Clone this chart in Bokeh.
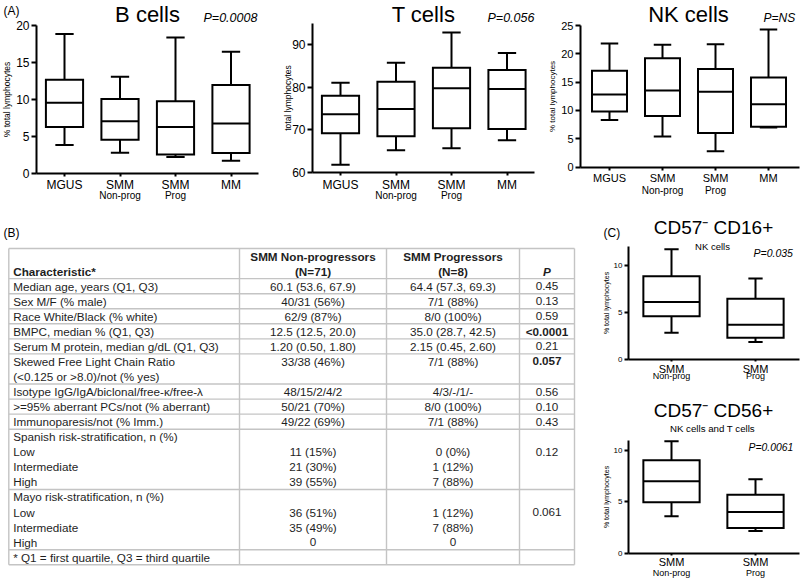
from bokeh.plotting import figure
from bokeh.models import Range1d, FixedTicker, ColumnDataSource, GridBox
from bokeh.layouts import row, column
from bokeh.embed import file_html
from bokeh.resources import INLINE
from bokeh.core.properties import value

# ---------------- data ----------------
groups = ["MGUS", "SMM", "SMM", "MM"]
group_notes = ["", "Non-prog", "Prog", ""]

b_low = [3.8, 2.75, 2.15, 1.65]
b_q1 = [6.2, 4.5, 2.5, 2.7]
b_med = [9.5, 7.0, 6.2, 6.7]
b_q3 = [12.6, 10.0, 9.7, 11.9]
b_high = [18.8, 13.0, 18.3, 16.4]

t_low = [61.8, 65.2, 65.7, 67.6]
t_q1 = [69.2, 68.5, 70.4, 70.2]
t_med = [73.7, 74.9, 79.8, 79.6]
t_q3 = [78.0, 81.3, 84.6, 84.1]
t_high = [81.1, 85.8, 92.9, 88.1]

nk_low = [8.3, 5.4, 2.8, 7.0]
nk_q1 = [9.8, 9.0, 6.0, 7.1]
nk_med = [12.8, 13.5, 13.3, 11.1]
nk_q3 = [17.0, 19.2, 17.3, 15.8]
nk_high = [21.8, 21.6, 21.7, 24.3]

c_groups = ["SMM", "SMM"]
c_notes = ["Non-prog", "Prog"]
cd16_low = [2.85, 1.85]
cd16_q1 = [4.6, 2.3]
cd16_med = [6.1, 3.7]
cd16_q3 = [8.85, 6.45]
cd16_high = [11.7, 8.6]
cd56_low = [3.6, 2.15]
cd56_q1 = [4.95, 2.45]
cd56_med = [7.0, 4.0]
cd56_q3 = [9.05, 5.7]
cd56_high = [10.9, 7.2]

b_yticks = [0, 5, 10, 15, 20]
t_yticks = [60, 70, 80, 90]
nk_yticks = [0, 5, 10, 15, 20, 25]
c_yticks = [0, 5, 10]
b_ybounds = (0, 20)
t_ybounds = (60, 95)
nk_ybounds = (0, 25)
cd16_ybounds = (0, 12)
cd56_ybounds = (0, 11)

panel_letters = ["(A)", "(B)", "(C)"]
top_titles = ["B cells", "T cells", "NK cells"]
top_pvals = ["P=0.0008", "P=0.056", "P=NS"]
c_titles = ["CD57\u207b CD16+", "CD57\u207b CD56+"]
c_subtitles = ["NK cells", "NK cells and T cells"]
c_pvals = ["P=0.035", "P=0.0061"]

table_header_left = "Characteristic*"
table_header_np = ["SMM Non-progressors", "(N=71)"]
table_header_p = ["SMM Progressors", "(N=8)"]
table_header_pv = "P"
characteristic = [
    ["Median age, years (Q1, Q3)"],
    ["Sex M/F (% male)"],
    ["Race White/Black (% white)"],
    ["BMPC, median % (Q1, Q3)"],
    ["Serum M protein, median g/dL (Q1, Q3)"],
    ["Skewed Free Light Chain Ratio", "(<0.125 or >8.0)/not (% yes)"],
    ["Isotype IgG/IgA/biclonal/free-\u03ba/free-\u03bb"],
    [">=95% aberrant PCs/not (% aberrant)"],
    ["Immunoparesis/not (% Imm.)"],
    ["Spanish risk-stratification, n (%)", "Low", "Intermediate", "High"],
    ["Mayo risk-stratification, n (%)", "Low", "Intermediate", "High"],
    ["* Q1 = first quartile, Q3 = third quartile"],
]
non_progressors = [
    ["60.1 (53.6, 67.9)"], ["40/31 (56%)"], ["62/9 (87%)"], ["12.5 (12.5, 20.0)"],
    ["1.20 (0.50, 1.80)"], ["33/38 (46%)", ""], ["48/15/2/4/2"], ["50/21 (70%)"],
    ["49/22 (69%)"], ["", "11 (15%)", "21 (30%)", "39 (55%)"],
    ["", "36 (51%)", "35 (49%)", "0"], [""],
]
progressors = [
    ["64.4 (57.3, 69.3)"], ["7/1 (88%)"], ["8/0 (100%)"], ["35.0 (28.7, 42.5)"],
    ["2.15 (0.45, 2.60)"], ["7/1 (88%)", ""], ["4/3/-/1/-"], ["8/0 (100%)"],
    ["7/1 (88%)"], ["", "0 (0%)", "1 (12%)", "7 (88%)"],
    ["", "1 (12%)", "7 (88%)", "0"], [""],
]
p_values = [
    ["0.45"], ["0.13"], ["0.59"], ["<0.0001"], ["0.21"], ["0.057", ""], ["0.56"],
    ["0.10"], ["0.43"], ["", "0.12"], ["", "0.061"], [""],
]
p_bold = ["<0.0001", "0.057"]

FONT = "Liberation Sans"


class Panel:
    """A figure whose frame fills it; page pixel <-> data mapping kept here."""

    def __init__(self, px0, py0, w, h, ax_px, ax_val, ux, ay_px, ay_val, uy):
        self.ax_px, self.ax_val, self.ux = ax_px, ax_val, ux
        self.ay_px, self.ay_val, self.uy = ay_px, ay_val, uy
        xr = (self.dx(px0), self.dx(px0 + w))
        yr = (self.dy(py0 + h), self.dy(py0))
        self.p = figure(width=w, height=h, x_range=Range1d(*xr), y_range=Range1d(*yr),
                        output_backend="svg", toolbar_location=None,
                        min_border_left=0, min_border_right=0,
                        min_border_top=0, min_border_bottom=0)
        self.p.outline_line_color = None
        self.p.xgrid.visible = False
        self.p.ygrid.visible = False
        self.p.background_fill_color = "white"
        self.p.border_fill_color = "white"

    def dx(self, px):
        return self.ax_val + (px - self.ax_px) / self.ux

    def dy(self, py):
        return self.ay_val + (self.ay_px - py) / self.uy

    def text(self, px, py, txt, size, align="center", style="normal"):
        self.p.text(x=[self.dx(px)], y=[self.dy(py)], text=[txt], text_font=value(FONT),
                    text_font_size=size, text_align=align, text_baseline="middle",
                    text_font_style=style, text_color="black")

    def notes(self, notes, py, size):
        xs = [i + 1 for i, n in enumerate(notes) if n]
        ts = [n for n in notes if n]
        self.p.text(x=xs, y=[self.dy(py)] * len(xs), text=ts, text_font=value(FONT),
                    text_font_size=size, text_align="center", text_baseline="middle",
                    text_color="black")


def draw_boxes(p, low, q1, med, q3, high, bw, cw, lw=2):
    xs = [i + 1 for i in range(len(low))]
    src = ColumnDataSource(dict(
        x=xs, low=low, q1=q1, med=med, q3=q3, high=high,
        bl=[x - bw / 2 for x in xs], br=[x + bw / 2 for x in xs],
        cl=[x - cw / 2 for x in xs], cr=[x + cw / 2 for x in xs]))
    kw = dict(source=src, line_color="black", line_width=lw)
    p.segment(x0="x", y0="low", x1="x", y1="q1", **kw)
    p.segment(x0="x", y0="q3", x1="x", y1="high", **kw)
    p.segment(x0="cl", y0="low", x1="cr", y1="low", **kw)
    p.segment(x0="cl", y0="high", x1="cr", y1="high", **kw)
    p.vbar(x="x", width=bw, bottom="q1", top="q3", fill_color="white",
           line_join="miter", **kw)
    p.segment(x0="bl", y0="med", x1="br", y1="med", **kw)


def style_axes(pn, labels, axis_px, end_px, ybounds, yticks, ylabel, tick_size,
               xlab_size, ylab_size, xtick_out=3, xstand=2, ytick_out=5,
               ylab_standoff=1, lw=2):
    p = pn.p
    xa = p.xaxis[0]
    xa.fixed_location = ybounds[0]
    xa.bounds = (pn.dx(axis_px), pn.dx(end_px))
    xa.ticker = FixedTicker(ticks=list(range(1, len(labels) + 1)))
    xa.major_label_overrides = {i + 1: lab for i, lab in enumerate(labels)}
    xa.axis_line_width = lw
    xa.major_tick_line_width = lw
    xa.major_tick_out = xtick_out
    xa.major_tick_in = 0
    xa.minor_tick_line_color = None
    xa.major_label_standoff = xstand
    xa.major_label_text_font = FONT
    xa.major_label_text_font_size = xlab_size
    xa.major_label_text_color = "black"
    ya = p.yaxis[0]
    ya.fixed_location = pn.dx(axis_px)
    ya.bounds = ybounds
    ya.ticker = FixedTicker(ticks=yticks)
    ya.axis_line_width = lw
    ya.major_tick_line_width = lw
    ya.major_tick_out = ytick_out
    ya.major_tick_in = 0
    ya.minor_tick_line_color = None
    ya.major_label_standoff = 2
    ya.major_label_text_font = FONT
    ya.major_label_text_font_size = tick_size
    ya.major_label_text_color = "black"
    ya.axis_label = ylabel
    ya.axis_label_text_font = FONT
    ya.axis_label_text_font_size = ylab_size
    ya.axis_label_text_font_style = "normal"
    ya.axis_label_text_color = "black"
    ya.axis_label_standoff = ylab_standoff


# ---------------- panel A ----------------
pb = Panel(0, 0, 270, 208, 64, 1, 55.5, 172.5, 0, 7.4)
draw_boxes(pb.p, b_low, b_q1, b_med, b_q3, b_high, 0.67, 0.33)
style_axes(pb, groups, 36, 258, b_ybounds, b_yticks, "% total lymphocytes",
           "12px", "12px", "8.5px")
pb.notes(group_notes, 195, "10px")
pb.text(3, 10.5, panel_letters[0], "12px", align="left")
pb.text(147, 14, top_titles[0], "22px")
pb.text(203, 17, top_pvals[0], "12.5px", align="left", style="italic")

pt = Panel(270, 0, 275, 208, 340, 1, 55.5, 172, 60, 4.257)
draw_boxes(pt.p, t_low, t_q1, t_med, t_q3, t_high, 0.67, 0.33)
style_axes(pt, groups, 312, 534, t_ybounds, t_yticks, "total lymphocytes",
           "12px", "12px", "8.5px", ylab_standoff=-4)
pt.notes(group_notes, 195, "10px")
pt.text(423, 14, top_titles[1], "22px")
pt.text(487, 17, top_pvals[1], "12.5px", align="left", style="italic")

pn = Panel(545, 0, 255, 208, 609, 1, 53, 166.5, 0, 5.66)
draw_boxes(pn.p, nk_low, nk_q1, nk_med, nk_q3, nk_high, 0.66, 0.33)
style_axes(pn, groups, 580, 799, nk_ybounds, nk_yticks, "% total lymphocytes",
           "11px", "11px", "8px")
pn.notes(group_notes, 190, "10px")
pn.text(688, 14, top_titles[2], "22px")
pn.text(763, 17, top_pvals[2], "12px", align="left", style="italic")

# ---------------- panel C ----------------
c1 = Panel(590, 208, 210, 184, 671, 1, 84, 359, 0, 9.42)
draw_boxes(c1.p, cd16_low, cd16_q1, cd16_med, cd16_q3, cd16_high, 0.67, 0.17)
style_axes(c1, c_groups, 628, 799, cd16_ybounds, c_yticks, "% total lymphocytes",
           "8px", "11px", "7px", xtick_out=2, xstand=1, ytick_out=4)
c1.notes(c_notes, 375, "9px")
c1.text(603, 232, panel_letters[2], "12px", align="left")
c1.text(713, 227, c_titles[0], "19px")
c1.text(712, 246, c_subtitles[0], "9.5px")
c1.text(753, 252, c_pvals[0], "10.5px", align="left", style="italic")

c2 = Panel(590, 392, 210, 188, 671, 1, 84, 552.7, 0, 10.27)
draw_boxes(c2.p, cd56_low, cd56_q1, cd56_med, cd56_q3, cd56_high, 0.67, 0.17)
style_axes(c2, c_groups, 628, 799, cd56_ybounds, c_yticks, "% total lymphocytes",
           "8px", "11px", "7px", xtick_out=2, xstand=1, ytick_out=4)
c2.notes(c_notes, 572, "9px")
c2.text(713, 410, c_titles[1], "19px")
c2.text(712, 428, c_subtitles[1], "9.7px")
c2.text(748, 447, c_pvals[1], "10.4px", align="left", style="italic")

# ---------------- panel B (table) ----------------
tb = figure(width=590, height=372, x_range=Range1d(0, 590), y_range=Range1d(580, 208),
            output_backend="svg", toolbar_location=None,
            min_border_left=0, min_border_right=0, min_border_top=0, min_border_bottom=0,
            x_axis_location=None, y_axis_location=None)
tb.outline_line_color = None
tb.xgrid.visible = False
tb.ygrid.visible = False

COL_EDGES = [8.3, 239, 386, 519, 574]
COL_TEXT_X = [12.7, 312.5, 452.5, 546.5]
TOP = 248.0
LINE_H = 15.06
GRID_COLOR = "#c4c4c4"
TXT_COLOR = "#1e1e1e"
TSIZE = "11.7px"

row_lines = [2] + [len(r) for r in characteristic]
bounds = [TOP]
for n in row_lines:
    bounds.append(bounds[-1] + n * LINE_H)

tb.segment(x0=[COL_EDGES[0]] * len(bounds), x1=[COL_EDGES[-1]] * len(bounds),
           y0=bounds, y1=bounds, line_color=GRID_COLOR, line_width=1.4)
tb.segment(x0=COL_EDGES, x1=COL_EDGES, y0=[bounds[0]] * len(COL_EDGES),
           y1=[bounds[-1]] * len(COL_EDGES), line_color=GRID_COLOR, line_width=1.4)

groups_txt = {"left": dict(x=[], y=[], text=[]), "center": dict(x=[], y=[], text=[]),
              "bold_center": dict(x=[], y=[], text=[])}


def line_y(row_idx, j):
    return bounds[row_idx] + (j + 0.5) * LINE_H


def add_txt(key, x, y, s):
    groups_txt[key]["x"].append(x)
    groups_txt[key]["y"].append(y)
    groups_txt[key]["text"].append(s)


for r in range(len(characteristic)):
    for j, s in enumerate(characteristic[r]):
        add_txt("left", COL_TEXT_X[0], line_y(r + 1, j), s)
    for col, data in ((1, non_progressors), (2, progressors), (3, p_values)):
        for j, s in enumerate(data[r]):
            if s:
                key = "bold_center" if (col == 3 and s in p_bold) else "center"
                add_txt(key, COL_TEXT_X[col], line_y(r + 1, j), s)

for j, s in enumerate(table_header_np):
    add_txt("bold_center", COL_TEXT_X[1], line_y(0, j), s)
for j, s in enumerate(table_header_p):
    add_txt("bold_center", COL_TEXT_X[2], line_y(0, j), s)

common = dict(text_font=value(FONT), text_font_size=TSIZE, text_baseline="middle",
              text_color=TXT_COLOR)
tb.text(x="x", y="y", text="text", source=ColumnDataSource(groups_txt["left"]),
        text_align="left", **common)
tb.text(x="x", y="y", text="text", source=ColumnDataSource(groups_txt["center"]),
        text_align="center", **common)
tb.text(x="x", y="y", text="text", source=ColumnDataSource(groups_txt["bold_center"]),
        text_align="center", text_font_style="bold", **common)
tb.text(x=[COL_TEXT_X[0]], y=[line_y(0, 1)], text=[table_header_left],
        text_align="left", text_font_style="bold", **common)
tb.text(x=[COL_TEXT_X[3]], y=[line_y(0, 1)], text=[table_header_pv],
        text_align="center", text_font_style="bold italic", **common)
tb.text(x=[3], y=[232], text=[panel_letters[1]], text_font=value(FONT),
        text_font_size="12px", text_align="left", text_baseline="middle",
        text_color="black")

bottom = GridBox(children=[(tb, 0, 0, 2, 1), (c1.p, 0, 1, 1, 1), (c2.p, 1, 1, 1, 1)],
                 spacing=0)
layout = column(row(pb.p, pt.p, pn.p), bottom)

open("out.html", "w").write(file_html(layout, INLINE))
